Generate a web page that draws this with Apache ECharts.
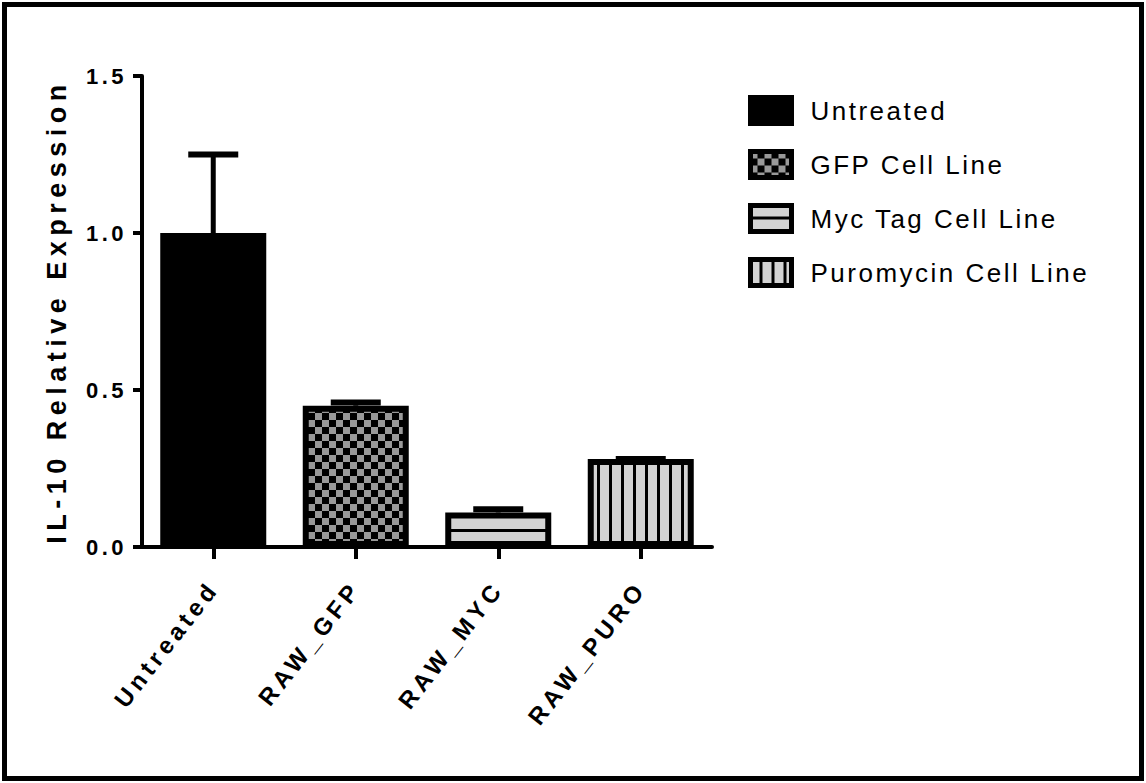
<!DOCTYPE html>
<html>
<head>
<meta charset="utf-8">
<script src="https://cdn.jsdelivr.net/npm/echarts@6/dist/echarts.min.js"></script>
<style>
  html, body { margin: 0; padding: 0; background: #fff; }
  #chart { position: absolute; left: 0; top: 0; width: 1146px; height: 783px; }
  #frame { position: absolute; left: 2px; top: 2px; width: 1142px; height: 779px; box-sizing: border-box; border: 5px solid #000; pointer-events: none; }
  #chart text[style*="22px"] { letter-spacing: 3.5px; }
  #chart text[style*="24px"] { letter-spacing: 4.5px; }
  #chart text[style*="27px"] { letter-spacing: 5.5px; }
  #chart text[style*="26px"] { letter-spacing: 2.5px; }
</style>
</head>
<body>
<div id="chart"></div>
<div id="frame"></div>
<script>
// ---- data ----
const categories = ['Untreated', 'RAW_GFP', 'RAW_MYC', 'RAW_PURO'];
const seriesNames = ['Untreated', 'GFP Cell Line', 'Myc Tag Cell Line', 'Puromycin Cell Line'];
const means = [1.0, 0.45, 0.11, 0.28];
const errUpper = [1.25, 0.46, 0.12, 0.28];

// ---- fill patterns ----
function makePattern(w, h, draw) {
  const c = document.createElement('canvas');
  c.width = w; c.height = h;
  const ctx = c.getContext('2d');
  draw(ctx, w, h);
  return { image: c.toDataURL(), repeat: 'repeat', imageWidth: w, imageHeight: h };
}
const checker = makePattern(14, 14, (ctx, w, h) => {
  ctx.fillStyle = '#000'; ctx.fillRect(0, 0, w, h);
  ctx.fillStyle = '#999999';
  ctx.fillRect(0, 0, 7, 7); ctx.fillRect(7, 7, 7, 7);
});
const hStripes = makePattern(14, 14, (ctx, w, h) => {
  ctx.fillStyle = '#d3d3d3'; ctx.fillRect(0, 0, w, h);
  ctx.fillStyle = '#000'; ctx.fillRect(0, 11, w, 3);
});
const vStripes = makePattern(12, 12, (ctx, w, h) => {
  ctx.fillStyle = '#d3d3d3'; ctx.fillRect(0, 0, w, h);
  ctx.fillStyle = '#000'; ctx.fillRect(9, 0, 3, h);
});
const fills = ['#000000', checker, hStripes, vStripes];

const FONT = "'Liberation Sans', Arial, sans-serif";
const chart = echarts.init(document.getElementById('chart'), null, { renderer: 'svg' });

const barSeries = seriesNames.map((name, i) => ({
  type: 'bar',
  name: name,
  data: categories.map((c, j) => (j === i ? means[i] : '-')),
  barWidth: 106,
  barGap: '-100%',
  z: 3,
  itemStyle: { color: fills[i], borderColor: '#000', borderWidth: 6 }
}));

const errorSeries = {
  type: 'custom',
  name: 'error',
  z: 2,
  data: categories.map((c, i) => [i, means[i], errUpper[i]]),
  renderItem: function (params, api) {
    const x = api.value(0);
    const base = api.coord([x, api.value(1)]);
    const top = api.coord([x, api.value(2)]);
    const half = 25;
    return {
      type: 'group',
      children: [
        { type: 'line', shape: { x1: base[0], y1: base[1], x2: top[0], y2: top[1] }, style: { stroke: '#000', lineWidth: 5 } },
        { type: 'line', shape: { x1: top[0] - half, y1: top[1], x2: top[0] + half, y2: top[1] }, style: { stroke: '#000', lineWidth: 6 } }
      ]
    };
  }
};

chart.setOption({
  animation: false,
  backgroundColor: '#fff',
  grid: { left: 142, right: 434, top: 76, bottom: 236, containLabel: false },
  legend: {
    data: seriesNames,
    orient: 'vertical',
    left: 748,
    top: 95,
    padding: 0,
    itemWidth: 41,
    itemHeight: 26,
    itemGap: 23,
    icon: 'rect',
    itemStyle: { borderWidth: 5, borderColor: '#000' },
    textStyle: { fontFamily: FONT, fontSize: 26, color: '#000', lineHeight: 26, padding: [0, 0, 0, 14] }
  },
  xAxis: {
    type: 'category',
    data: categories,
    boundaryGap: true,
    splitLine: { show: false },
    axisLine: { show: true, lineStyle: { color: '#000', width: 4 } },
    axisTick: { show: true, alignWithLabel: true, length: 12, lineStyle: { color: '#000', width: 4 } },
    axisLabel: {
      interval: 0,
      rotate: 52,
      margin: 37,
      fontFamily: FONT,
      fontSize: 24,
      fontWeight: 'bold',
      color: '#000'
    }
  },
  yAxis: {
    type: 'value',
    min: 0,
    max: 1.5,
    interval: 0.5,
    splitLine: { show: false },
    axisLine: { show: true, onZero: false, lineStyle: { color: '#000', width: 4 } },
    axisTick: { show: true, length: 9, lineStyle: { color: '#000', width: 4 } },
    axisLabel: {
      formatter: v => v.toFixed(1),
      margin: 15,
      fontFamily: FONT,
      fontSize: 22,
      fontWeight: 'bold',
      color: '#000'
    },
    name: 'IL-10 Relative Expression',
    nameLocation: 'middle',
    nameRotate: 90,
    nameGap: 72,
    nameTextStyle: { fontFamily: FONT, fontSize: 27, fontWeight: 'bold', color: '#000' }
  },
  series: [errorSeries].concat(barSeries)
});
</script>
</body>
</html>
